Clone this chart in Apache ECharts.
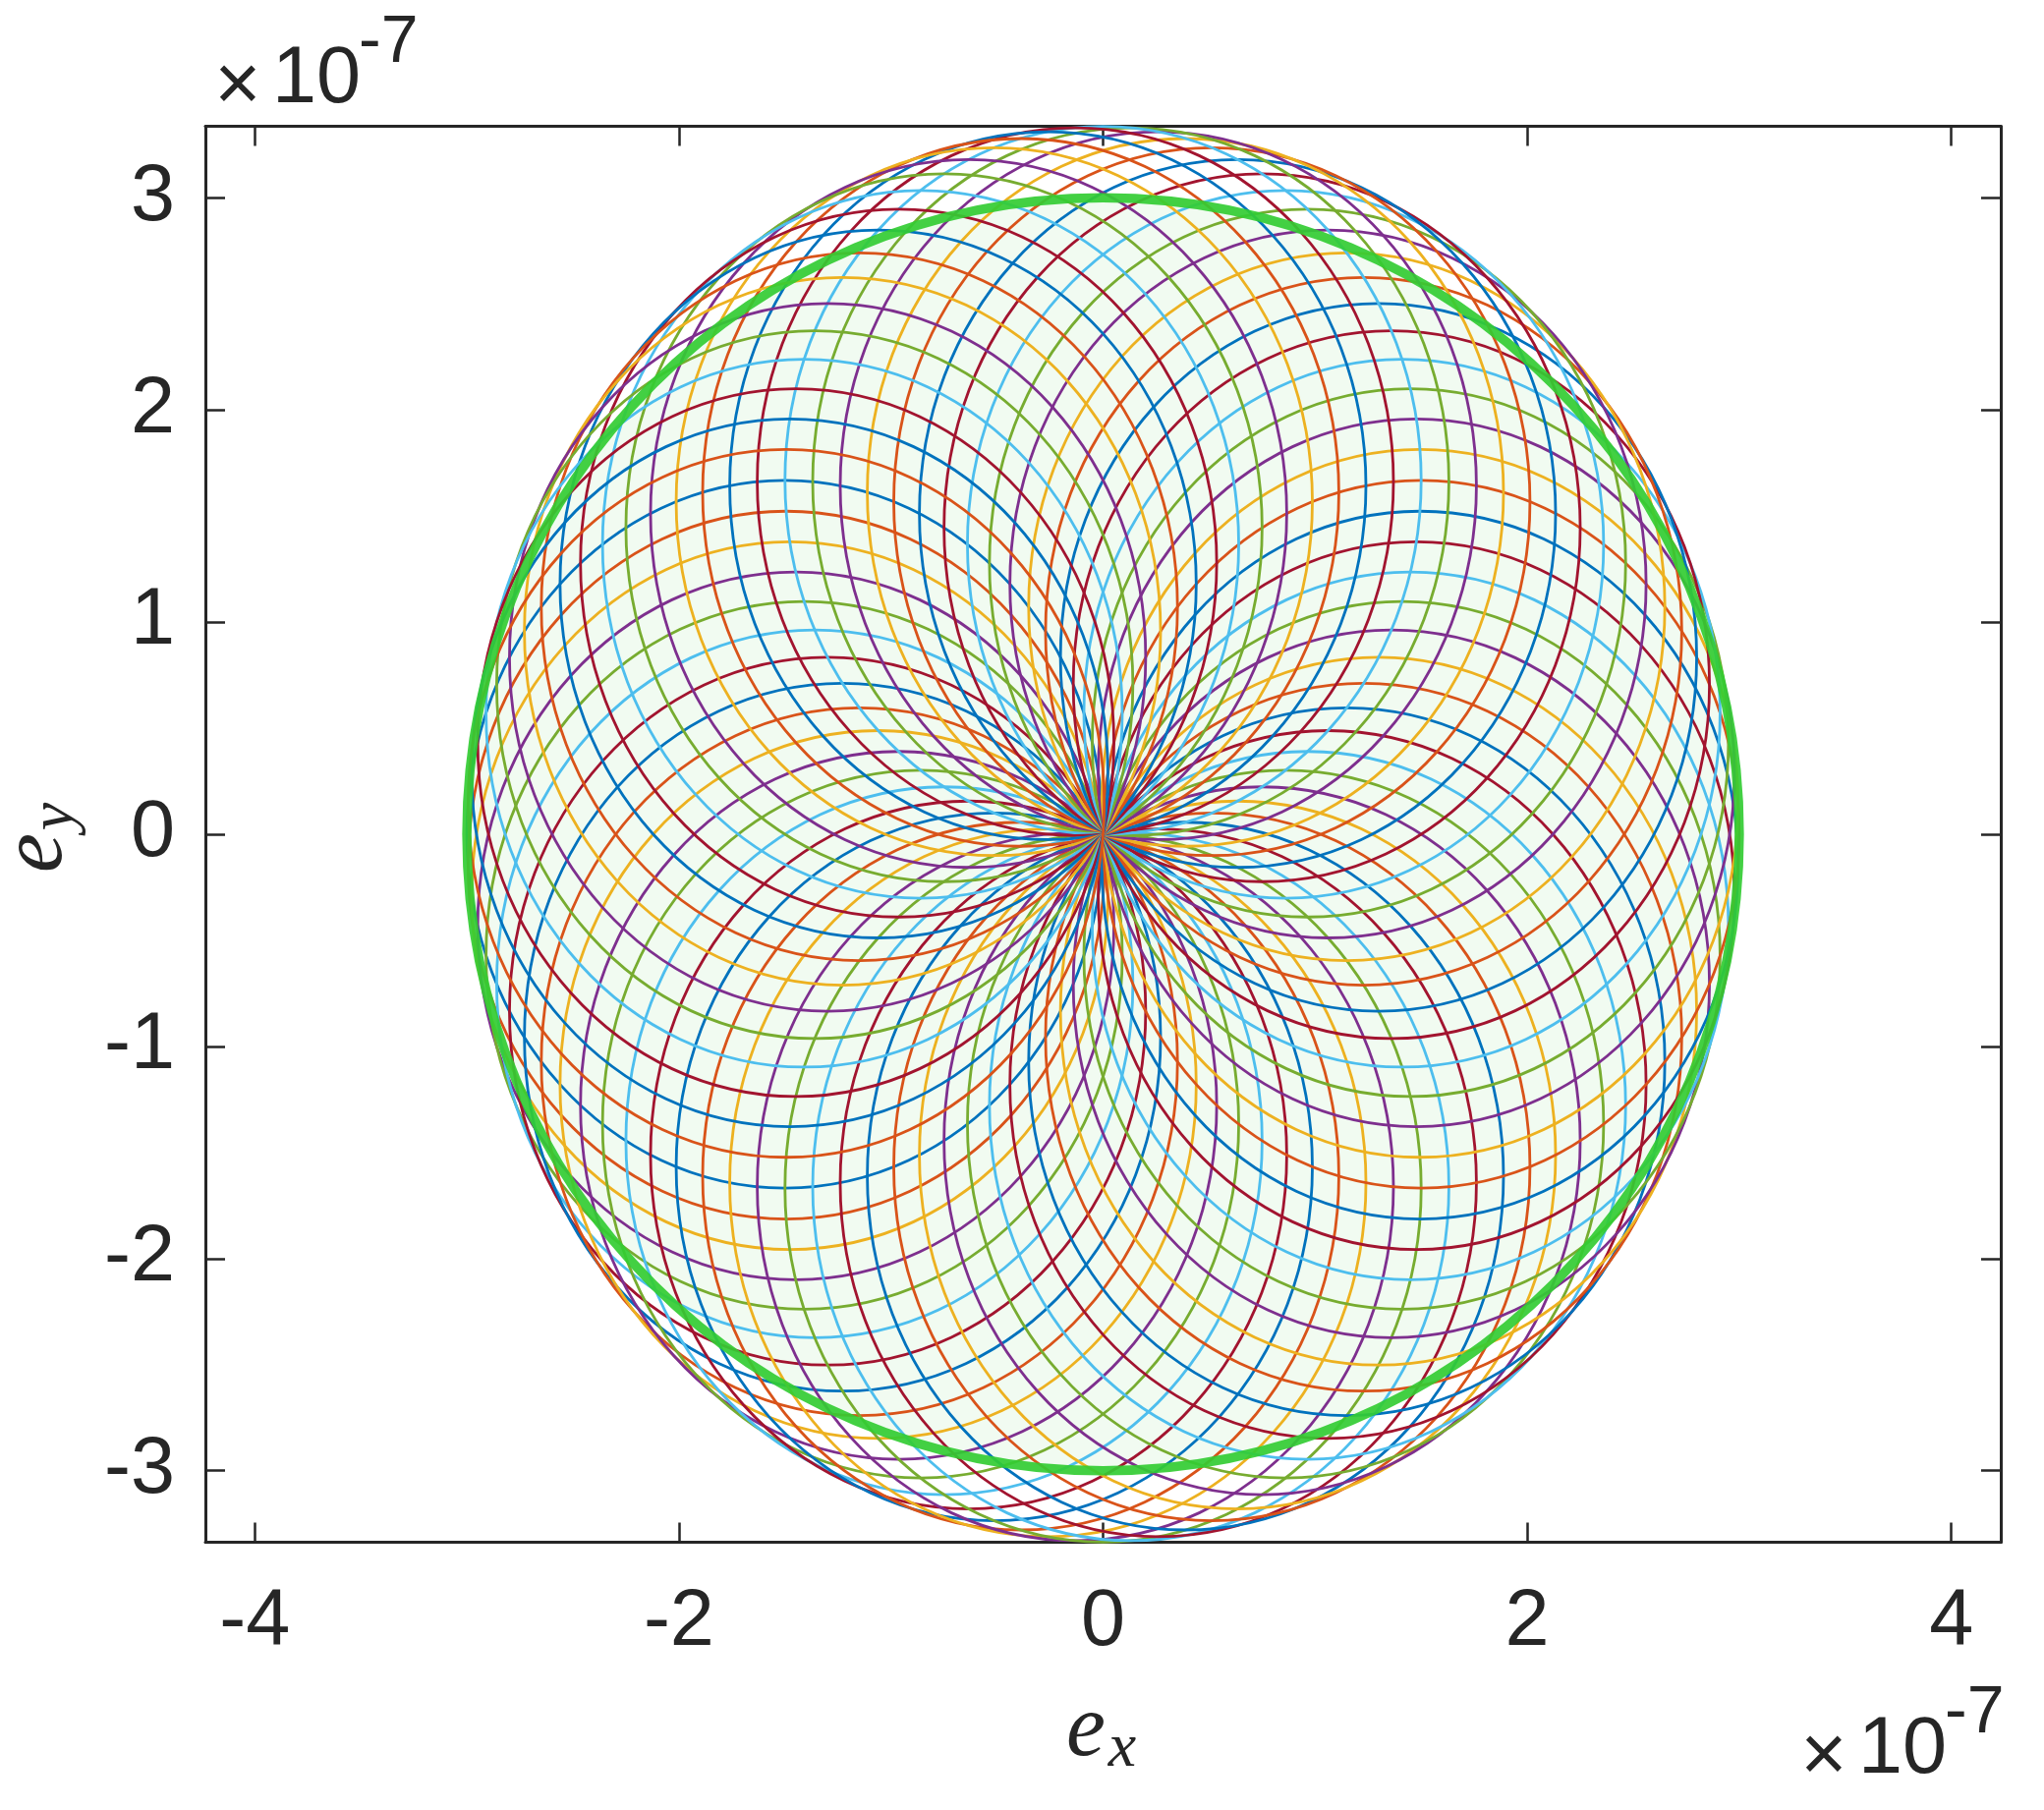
<!DOCTYPE html>
<html>
<head>
<meta charset="utf-8">
<script src="https://cdn.jsdelivr.net/npm/echarts@6/dist/echarts.min.js"></script>
<style>
  html, body { margin: 0; padding: 0; background: #fff; }
  #chart { width: 2080px; height: 1842px; }
</style>
</head>
<body>
<div id="chart"></div>
<script>
// values in units of 1e-7
// phase (deg) of each eccentricity loop, plotted in this order
var phaseDeg = [
  0, 5, 10, 15, 20, 25, 30, 35, 40, 45, 50, 55,
  60, 65, 70, 75, 80, 85, 90, 95, 100, 105, 110, 115,
  120, 125, 130, 135, 140, 145, 150, 155, 160, 165, 170, 175,
  180, 185, 190, 195, 200, 205, 210, 215, 220, 225, 230, 235,
  240, 245, 250, 255, 260, 265, 270, 275, 280, 285, 290, 295,
  300, 305, 310, 315, 320, 325, 330, 335, 340, 345, 350, 355
];
// half-amplitudes of each loop along e_x and e_y
var loopAmpX = 1.5;
var loopAmpY = 1.668;
// frozen (thick green) circle
var frozenRadius = 3.0;

var xTicks = [-4, -2, 0, 2, 4];
var yTicks = [-3, -2, -1, 0, 1, 2, 3];
var xLim = [-4.233, 4.233];
var yLim = [-3.337, 3.337];

var lineColors = ['#0072BD', '#D95319', '#EDB120', '#7E2F8E', '#77AC30', '#4DBEEE', '#A2142F'];
var axisColor = '#262626';
var greenColor = '#33CC33';

var loopData = phaseDeg.map(function (p, i) {
  var r = p * Math.PI / 180;
  return [-loopAmpX * Math.cos(r), -loopAmpY * Math.sin(r), i % lineColors.length];
});

var chart = echarts.init(document.getElementById('chart'), null, { renderer: 'canvas' });

function axisCommon(pos, withLabels, ticks) {
  return {
    type: 'value',
    position: pos,
    axisLine: { show: true, onZero: false, lineStyle: { color: axisColor, width: 3 } },
    axisTick: { show: true, inside: true, length: 20, customValues: ticks, lineStyle: { color: axisColor, width: 2.5 } },
    axisLabel: {
      show: withLabels,
      customValues: ticks,
      fontFamily: 'Liberation Sans',
      fontSize: 81,
      color: axisColor,
      margin: pos === 'bottom' ? 42 : 31
    },
    splitLine: { show: false }
  };
}

var xBottom = axisCommon('bottom', true, xTicks);
var xTop = axisCommon('top', false, xTicks);
var yLeft = axisCommon('left', true, yTicks);
var yRight = axisCommon('right', false, yTicks);
[xBottom, xTop].forEach(function (a) { a.min = xLim[0]; a.max = xLim[1]; });
[yLeft, yRight].forEach(function (a) { a.min = yLim[0]; a.max = yLim[1]; });

function textEl(txt, x, y, font, align, vAlign) {
  return {
    type: 'text', x: x, y: y,
    style: {
      text: txt, font: font, fill: axisColor,
      textAlign: align, align: align,
      textVerticalAlign: vAlign, verticalAlign: vAlign
    }
  };
}

var serifE = 'italic 90px "Liberation Serif"';
var serifSub = 'italic 64px "Liberation Serif"';

chart.setOption({
  animation: false,
  backgroundColor: '#ffffff',
  grid: { left: 209, top: 128.5, width: 1827, height: 1441, containLabel: false },
  xAxis: [xBottom, xTop],
  yAxis: [yLeft, yRight],
  series: [
    {
      // pale fill of the frozen circle
      type: 'custom',
      xAxisIndex: 0, yAxisIndex: 0,
      z: 1,
      data: [[0, 0]],
      renderItem: function (params, api) {
        var c = api.coord([api.value(0), api.value(1)]);
        var s = api.size([frozenRadius, frozenRadius]);
        return { type: 'ellipse', shape: { cx: c[0], cy: c[1], rx: s[0], ry: s[1] },
          style: { fill: 'rgba(50,205,50,0.07)', stroke: null } };
      }
    },
    {
      type: 'custom',
      xAxisIndex: 0, yAxisIndex: 0,
      z: 2,
      data: loopData,
      renderItem: function (params, api) {
        var c = api.coord([api.value(0), api.value(1)]);
        var s = api.size([loopAmpX, loopAmpY]);
        return { type: 'ellipse', shape: { cx: c[0], cy: c[1], rx: s[0], ry: s[1] },
          style: { fill: 'none', stroke: lineColors[api.value(2)], lineWidth: 2.8 } };
      }
    },
    {
      type: 'custom',
      xAxisIndex: 0, yAxisIndex: 0,
      z: 3,
      data: [[0, 0]],
      renderItem: function (params, api) {
        var c = api.coord([api.value(0), api.value(1)]);
        var s = api.size([frozenRadius, frozenRadius]);
        return { type: 'ellipse', shape: { cx: c[0], cy: c[1], rx: s[0], ry: s[1] },
          style: { fill: 'none', stroke: greenColor, lineWidth: 9.5, opacity: 0.92 } };
      }
    }
  ],
  graphic: [
    // x10^-7 top left
    textEl('\u00d7', 242, 90, '81px "Liberation Sans"', 'center', 'middle'),
    textEl('10', 322, 82, '81px "Liberation Sans"', 'center', 'middle'),
    textEl('-7', 365, 44, '68px "Liberation Sans"', 'left', 'middle'),
    // x10^-7 bottom right
    textEl('\u00d7', 1856, 1790, '81px "Liberation Sans"', 'center', 'middle'),
    textEl('10', 1936, 1782, '81px "Liberation Sans"', 'center', 'middle'),
    textEl('-7', 1979, 1744, '68px "Liberation Sans"', 'left', 'middle'),
    // e_x
    textEl('e', 1105, 1762, serifE, 'center', 'middle'),
    textEl('x', 1142, 1780, serifSub, 'center', 'middle'),
    // e_y (rotated)
    {
      type: 'group', x: 38, y: 868, rotation: Math.PI / 2,
      children: [
        textEl('e', 0, 0, serifE, 'center', 'middle'),
        textEl('y', 37, 18, serifSub, 'center', 'middle')
      ]
    }
  ]
});
</script>
</body>
</html>
